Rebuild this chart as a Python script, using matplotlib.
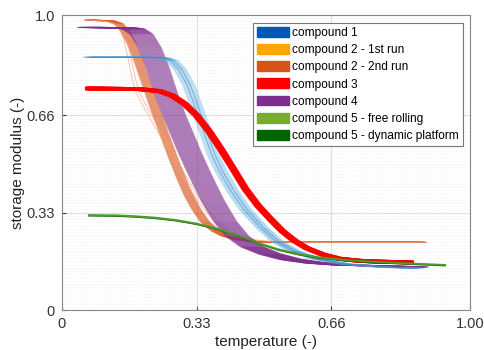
import numpy as np
import matplotlib
matplotlib.use("Agg")
import matplotlib.pyplot as plt
from matplotlib.patches import Patch
from matplotlib.ticker import MultipleLocator

plt.rcParams['font.family'] = ['Liberation Sans', 'DejaVu Sans']

# ---- data ----
c1_x = [0.066, 0.20, 0.25, 0.27, 0.29, 0.31, 0.33, 0.35, 0.37, 0.39, 0.42, 0.45, 0.49, 0.53,
        0.57, 0.62, 0.69, 0.78, 0.87]
c1_y = [0.857, 0.857, 0.855, 0.845, 0.815, 0.765, 0.69, 0.61, 0.53, 0.47, 0.40, 0.34, 0.28, 0.23,
        0.20, 0.175, 0.157, 0.146, 0.142]

c2a_x = [0.066, 0.11, 0.13, 0.145, 0.155, 0.165, 0.175, 0.185, 0.20, 0.23, 0.26, 0.29, 0.32,
         0.35, 0.38, 0.41, 0.44, 0.48, 0.53, 0.60, 0.882]
c2a_y = [0.983, 0.978, 0.97, 0.955, 0.92, 0.86, 0.79, 0.74, 0.70, 0.625, 0.555, 0.48, 0.405,
         0.345, 0.30, 0.265, 0.246, 0.236, 0.231, 0.23, 0.23]

c2b_x = [0.066, 0.12, 0.14, 0.155, 0.17, 0.185, 0.20, 0.215, 0.23, 0.25, 0.27, 0.29, 0.31,
         0.33, 0.35, 0.375, 0.40, 0.43, 0.47, 0.52, 0.70, 0.882]
c2b_y = [0.983, 0.98, 0.97, 0.945, 0.905, 0.855, 0.795, 0.735, 0.675, 0.60, 0.525, 0.455, 0.39,
         0.34, 0.30, 0.27, 0.252, 0.24, 0.233, 0.23, 0.23, 0.23]

c3_x = [0.066, 0.19, 0.24, 0.27, 0.30, 0.33, 0.36, 0.39, 0.42, 0.45, 0.48, 0.51, 0.54, 0.57,
        0.60, 0.64, 0.68, 0.73, 0.78, 0.853]
c3_y = [0.751, 0.749, 0.742, 0.727, 0.70, 0.66, 0.607, 0.545, 0.478, 0.41, 0.355, 0.31, 0.268,
        0.235, 0.21, 0.188, 0.174, 0.167, 0.164, 0.162]

c4_x = [0.066, 0.15, 0.175, 0.195, 0.215, 0.235, 0.255, 0.275, 0.295, 0.313, 0.331, 0.35, 0.372,
        0.40, 0.43, 0.465, 0.51, 0.56, 0.62, 0.69, 0.87]
c4_y = [0.958, 0.957, 0.953, 0.935, 0.89, 0.82, 0.735, 0.66, 0.595, 0.535, 0.48, 0.425, 0.365,
        0.30, 0.25, 0.215, 0.19, 0.172, 0.16, 0.153, 0.146]

c5f_x = [0.066, 0.13, 0.18, 0.23, 0.28, 0.33, 0.38, 0.43, 0.48, 0.53, 0.58, 0.63, 0.69, 0.76,
         0.85, 0.939]
c5f_y = [0.322, 0.321, 0.318, 0.313, 0.305, 0.293, 0.276, 0.254, 0.228, 0.206, 0.19, 0.179, 0.17,
         0.164, 0.158, 0.153]

c5d_x = [0.066, 0.13, 0.18, 0.23, 0.28, 0.33, 0.38, 0.43, 0.48, 0.53, 0.58, 0.63, 0.69, 0.76,
         0.85, 0.939]
c5d_y = [0.320, 0.319, 0.316, 0.311, 0.303, 0.291, 0.274, 0.252, 0.226, 0.204, 0.188, 0.177, 0.168,
         0.162, 0.156, 0.151]

legend_labels = ['compound 1', 'compound 2 - 1st run', 'compound 2 - 2nd run', 'compound 3',
                 'compound 4', 'compound 5 - free rolling', 'compound 5 - dynamic platform']
legend_colors = ['#0057B8', '#FFA500', '#D95319', '#FF0000', '#7E2F8E', '#77AC30', '#006400']

ticks = [0, 0.33, 0.66, 1.0]
xtick_labels = ['0', '0.33', '0.66', '1.00']
ytick_labels = ['0', '0.33', '0.66', '1.0']

# ---- figure ----
fig = plt.figure(figsize=(4.84, 3.5), dpi=100)
ax = fig.add_axes([0.128, 0.114, 0.843, 0.843])


def bundle(x, y, color, offsets, lw, alpha, z):
    x = np.asarray(x)
    for o in offsets:
        ax.plot(x + o, y, color=color, lw=lw, alpha=alpha, zorder=z)


# compound 2 - 2nd run (orange bundle)
bundle(c2b_x, c2b_y, '#D95319', np.linspace(-0.011, 0.011, 14), 0.8, 0.45, 2)
# compound 2 - 1st run (thin light orange lines)
bundle(c2a_x, c2a_y, '#F7A07A', [-0.004, 0.004], 0.7, 0.65, 2)
# compound 4 (wide purple bundle)
bundle(c4_x, c4_y, '#7E2F8E', np.linspace(-0.028, 0.028, 30), 0.8, 0.5, 3)
# compound 1 (blue bundle)
bundle(c1_x, c1_y, '#5AAEE0', np.linspace(-0.015, 0.015, 14), 0.8, 0.32, 4)
bundle(c1_x, c1_y, '#2A78C4', [-0.004, 0.004], 0.7, 0.5, 4)
# compound 3 (thick red)
bundle(c3_x, c3_y, '#FF0000', np.linspace(-0.005, 0.005, 5), 2.8, 1.0, 5)
# compound 5
ax.plot(c5d_x, c5d_y, color='#006400', lw=1.2, zorder=6)
ax.plot(c5f_x, c5f_y, color='#4E9A2A', lw=1.4, zorder=6)

ax.set_xlim(0, 1)
ax.set_ylim(0, 1)
ax.set_xticks(ticks)
ax.set_xticklabels(xtick_labels)
ax.set_yticks(ticks)
ax.set_yticklabels(ytick_labels)
ax.yaxis.set_minor_locator(MultipleLocator(0.011))
ax.grid(True, which='major', color='#DDDDDD', lw=0.8)
ax.grid(True, which='minor', axis='y', color='#EEEEEE', lw=0.6, ls=':')
ax.set_axisbelow(True)
ax.tick_params(direction='in', length=3, labelsize=10.5, colors='#333333', pad=5)
ax.tick_params(which='minor', length=0)
for s in ax.spines.values():
    s.set_color('#888888')
    s.set_linewidth(0.8)

ax.set_xlabel('temperature (-)', fontsize=11, color='#222222', labelpad=3)
ax.set_ylabel('storage modulus (-)', fontsize=11, color='#222222', labelpad=1)

handles = [Patch(facecolor=c, edgecolor=c) for c in legend_colors]
leg = ax.legend(handles, legend_labels, loc='upper right', bbox_to_anchor=(0.983, 0.973),
                fontsize=8.6, handlelength=2.7, handleheight=0.9, handletextpad=0.25,
                labelspacing=0.42, borderpad=0.35, borderaxespad=0.0, fancybox=False,
                framealpha=1, edgecolor='#777777')
leg.get_frame().set_linewidth(0.8)
leg.set_zorder(10)

fig.savefig('out.png', dpi=100)
